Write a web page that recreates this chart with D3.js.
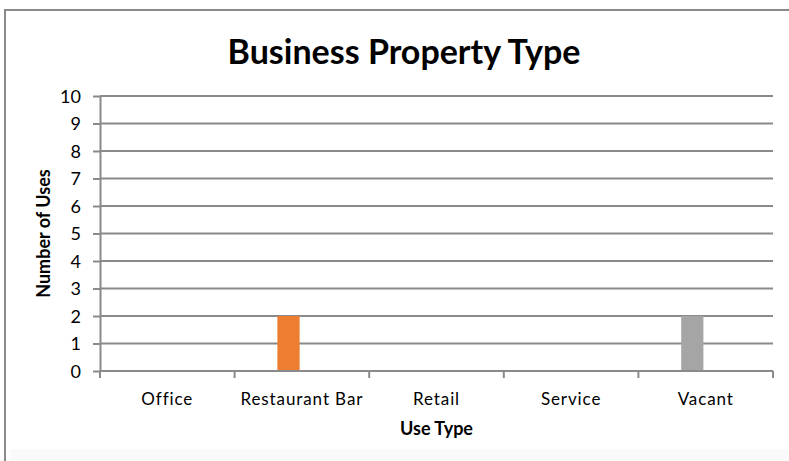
<!DOCTYPE html>
<html lang="en">
<head>
    <meta charset="UTF-8" />
    <script src="https://d3js.org/d3.v7.min.js"></script>
    <title>Business Property Type</title>
    <style>
        body { margin: 0; background: #fff; }
        svg text { font-family: Lato, "Open Sans", sans-serif; fill: #000; }
        .grid line { stroke: #8a8a8a; stroke-width: 2; }
        .axis path, .axis line { stroke: #8a8a8a; stroke-width: 2; }
        .axis text { font-size: 18px; }
        .xaxis text { font-size: 17px; letter-spacing: 0.9px; }
    </style>
</head>
<body>
    <svg id="chart" width="789" height="461"></svg>
    <script>
        // data
        const categories = ["Office", "Restaurant Bar", "Retail", "Service", "Vacant"];
        const uses = [0, 2, 0, 0, 2];
        const barColors = ["#5b9bd5", "#ed7d31", "#a5a5a5", "#ffc000", "#a5a5a5"];
        const yTicks = [0, 1, 2, 3, 4, 5, 6, 7, 8, 9, 10];

        const svg = d3.select("#chart");
        const margin = { left: 100, right: 16, top: 96, bottom: 90 };
        const width = +svg.attr("width");
        const height = +svg.attr("height");

        // chart frame
        svg.append("rect")
            .attr("x", 10).attr("y", 449)
            .attr("width", width).attr("height", 20)
            .attr("fill", "#fafafa");
        svg.append("rect")
            .attr("x", 5).attr("y", 10)
            .attr("width", width + 10).attr("height", height + 10)
            .attr("fill", "none")
            .attr("stroke", "#8a8a8a")
            .attr("stroke-width", 2);

        const x = d3.scaleBand()
            .domain(categories)
            .range([margin.left, width - margin.right]);

        const y = d3.scaleLinear()
            .domain([0, 10])
            .range([height - margin.bottom, margin.top]);

        // horizontal gridlines
        svg.append("g")
            .attr("class", "grid")
            .selectAll("line")
            .data(yTicks.slice(1))
            .join("line")
            .attr("x1", margin.left)
            .attr("x2", width - margin.right)
            .attr("y1", d => y(d))
            .attr("y2", d => y(d));

        // bars (sit left of the category centre, like the original)
        const bw = x.bandwidth();
        svg.append("g")
            .selectAll("rect")
            .data(categories)
            .join("rect")
            .attr("x", d => x(d) + bw * 0.318)
            .attr("width", bw * 0.165)
            .attr("y", (d, i) => y(uses[i]))
            .attr("height", (d, i) => y(0) - y(uses[i]))
            .attr("fill", (d, i) => barColors[i]);

        // y axis
        const yAxis = svg.append("g")
            .attr("class", "axis")
            .attr("transform", `translate(${margin.left},0)`)
            .call(d3.axisLeft(y).tickValues(yTicks).tickSize(7).tickSizeOuter(0).tickPadding(12));
        yAxis.selectAll("text").attr("dy", "0.36em");

        // x axis: ticks between categories
        const xAxis = svg.append("g")
            .attr("class", "axis xaxis")
            .attr("transform", `translate(0,${y(0)})`);
        xAxis.append("line")
            .attr("x1", margin.left).attr("x2", width - margin.right);
        xAxis.selectAll("line.tick")
            .data(categories.concat(["end"]))
            .join("line")
            .attr("class", "tick")
            .attr("x1", (d, i) => margin.left + i * bw)
            .attr("x2", (d, i) => margin.left + i * bw)
            .attr("y1", 0).attr("y2", 7);
        xAxis.selectAll("text")
            .data(categories)
            .join("text")
            .attr("x", d => x(d) + bw / 2)
            .attr("y", 34)
            .attr("text-anchor", "middle")
            .text(d => d);

        // title and axis labels
        svg.append("text")
            .attr("x", 404).attr("y", 64)
            .attr("text-anchor", "middle")
            .attr("font-size", 34)
            .attr("font-weight", "bold")
            .text("Business Property Type");

        svg.append("text")
            .attr("x", (margin.left + width - margin.right) / 2)
            .attr("y", 435)
            .attr("text-anchor", "middle")
            .attr("font-size", 18)
            .attr("font-weight", "bold")
            .text("Use Type");

        svg.append("text")
            .attr("transform", `translate(50,${(y(0) + y(10)) / 2}) rotate(-90)`)
            .attr("text-anchor", "middle")
            .attr("font-size", 18)
            .attr("font-weight", "bold")
            .text("Number of Uses");
    </script>
</body>
</html>
